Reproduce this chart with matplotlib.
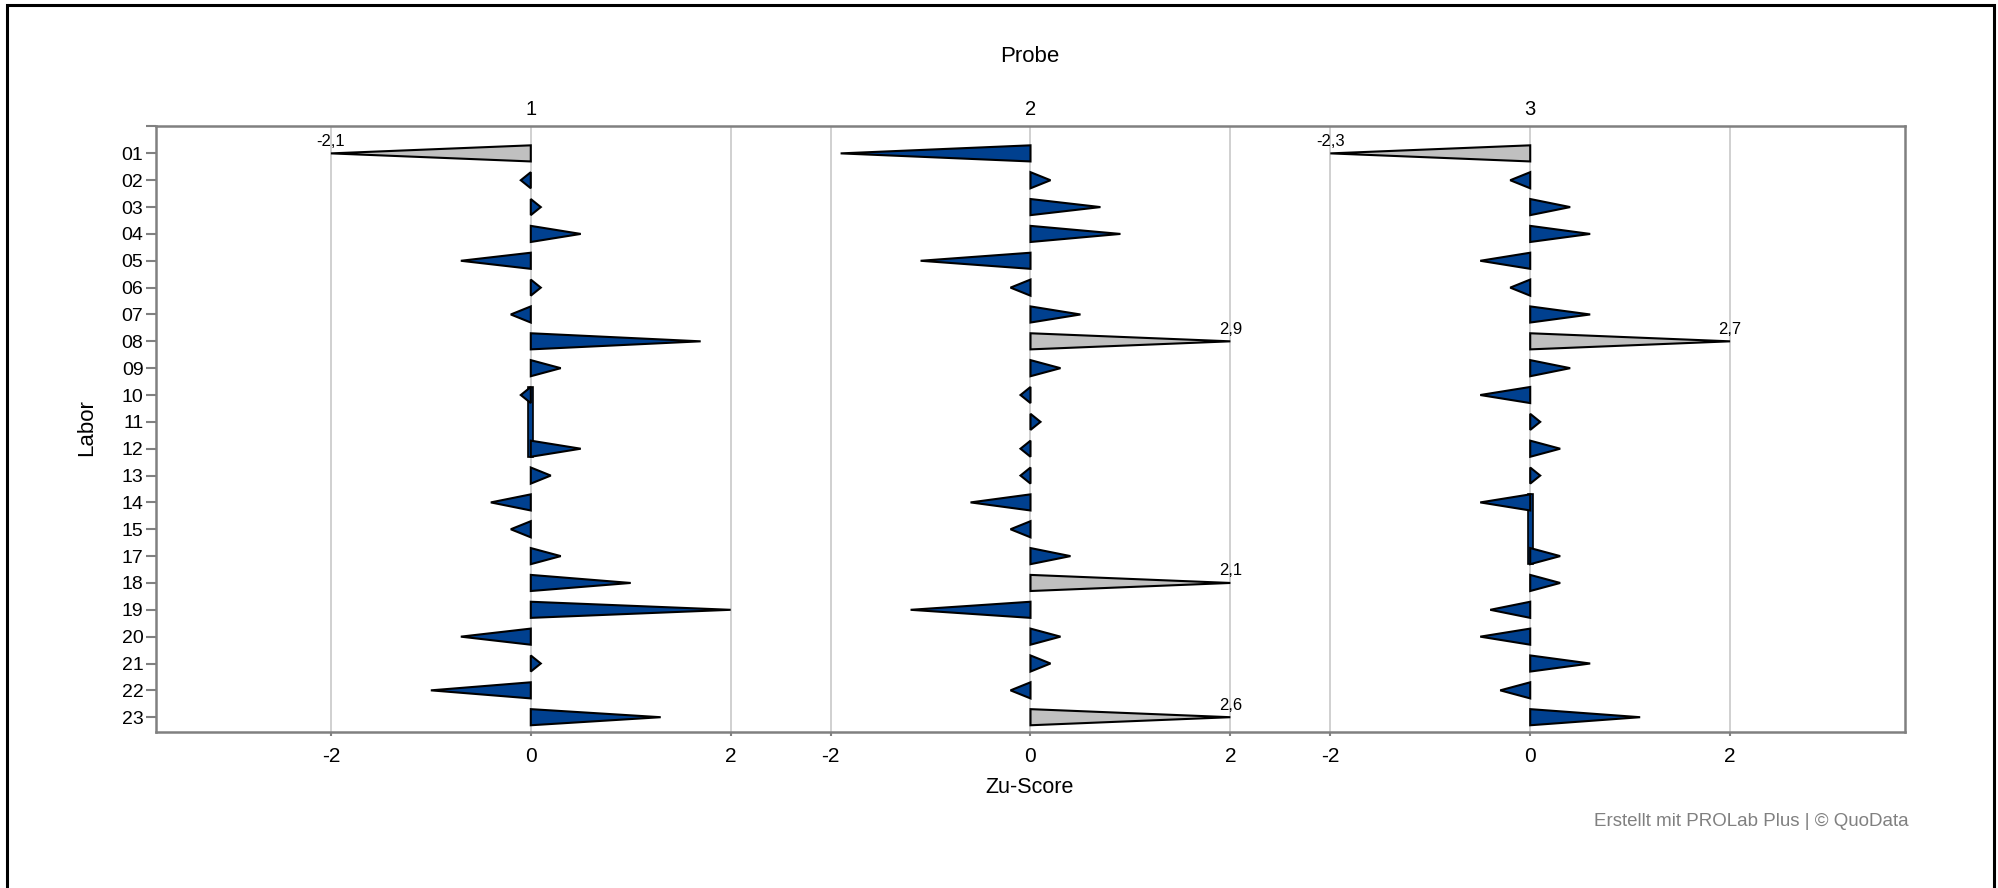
import numpy as np
import matplotlib.pyplot as plt
from matplotlib.patches import Polygon, Rectangle

plt.rcParams['font.family'] = ['Liberation Sans', 'DejaVu Sans']

# Daten: Zu-Scores je Labor und Probe (None = kein Wert)
labore = ['01', '02', '03', '04', '05', '06', '07', '08', '09', '10', '11',
          '12', '13', '14', '15', '17', '18', '19', '20', '21', '22', '23']
proben = ['1', '2', '3']
z_probe1 = [-2.1, -0.1, 0.1, 0.5, -0.7, 0.1, -0.2, 1.7, 0.3, -0.1, None,
            0.5, 0.2, -0.4, -0.2, 0.3, 1.0, 2.0, -0.7, 0.1, -1.0, 1.3]
z_probe2 = [-1.9, 0.2, 0.7, 0.9, -1.1, -0.2, 0.5, 2.9, 0.3, -0.1, 0.1,
            -0.1, -0.1, -0.6, -0.2, 0.4, 2.1, -1.2, 0.3, 0.2, -0.2, 2.6]
z_probe3 = [-2.3, -0.2, 0.4, 0.6, -0.5, -0.2, 0.6, 2.7, 0.4, -0.5, 0.1,
            0.3, 0.1, -0.5, None, 0.3, 0.3, -0.4, -0.5, 0.6, -0.3, 1.1]
x_ticks = [-2, 0, 2]
grenze = 2.0

blau = '#00408f'
grau = '#c0c0c0'
achse = '#808080'

fig = plt.figure(figsize=(19.99, 8.88), dpi=100)
ax = fig.add_axes([156 / 1999, 1 - 731.7 / 888, (1905 - 156) / 1999, (731.7 - 126) / 888])

abstand = 5.0
h = 0.3
for i, werte in enumerate([z_probe1, z_probe2, z_probe3]):
    off = i * abstand
    for j, z in enumerate(werte):
        if z is None:
            # fehlender Wert: schmaler Balken von Nachbar zu Nachbar
            ax.add_patch(Rectangle((off - 0.025, j - 1 - h), 0.05, 2 + 2 * h,
                                   facecolor=blau, edgecolor='black', lw=1.2, zorder=3))
            continue
        zc = float(np.clip(z, -grenze, grenze))
        farbe = grau if abs(z) > grenze else blau
        ax.add_patch(Polygon([(off, j - h), (off + zc, j), (off, j + h)], closed=True,
                             facecolor=farbe, edgecolor='black', lw=1.5, zorder=4))
        if abs(z) > grenze:
            ax.text(off + zc, j - 0.45, f'{z:.1f}'.replace('.', ','), ha='center',
                    va='center', fontsize=12)

ax.set_xlim(-3.75, 13.75)
ax.set_ylim(len(labore) - 0.46, -1.02)

xt = [i * abstand + t for i in range(len(proben)) for t in x_ticks]
ax.set_xticks(xt)
ax.set_xticklabels([str(t) for t in x_ticks] * len(proben), fontsize=15)
ax.set_yticks(range(len(labore)))
ax.set_yticklabels(labore, fontsize=14)
ax.set_yticks([-1.02], minor=True)
ax.tick_params(axis='y', which='both', length=7.5, width=1.5, color=achse, pad=1.5)
ax.tick_params(axis='x', length=3, width=1.5, color=achse, pad=8)
ax.grid(axis='x', color='#c8c8c8', lw=1.2, zorder=0)
ax.set_axisbelow(True)
for s in ax.spines.values():
    s.set_color(achse)
    s.set_linewidth(1.8)

for i, p in enumerate(proben):
    ax.text(i * abstand, 1.027, p, transform=ax.get_xaxis_transform(),
            ha='center', va='center', fontsize=14.5)

fig.text(1030 / 1999, 1 - 57 / 888, 'Probe', ha='center', va='center', fontsize=16)
fig.text(1030 / 1999, 1 - 787 / 888, 'Zu-Score', ha='center', va='center', fontsize=15.5)
fig.text(87 / 1999, 1 - 427.5 / 888, 'Labor', ha='center', va='center', fontsize=16, rotation=90)
fig.text(1909 / 1999, 1 - 821 / 888, 'Erstellt mit PROLab Plus | © QuoData',
         ha='right', va='center', fontsize=13.5, color=achse)

# Rahmen um die Grafik (unten offen)
fig.add_artist(Rectangle((7 / 1999, -0.1), (1994 - 7) / 1999, 1.1 - 5 / 888,
                         transform=fig.transFigure, fill=False, edgecolor='black', lw=2.2))

fig.savefig('out.png', dpi=100)
